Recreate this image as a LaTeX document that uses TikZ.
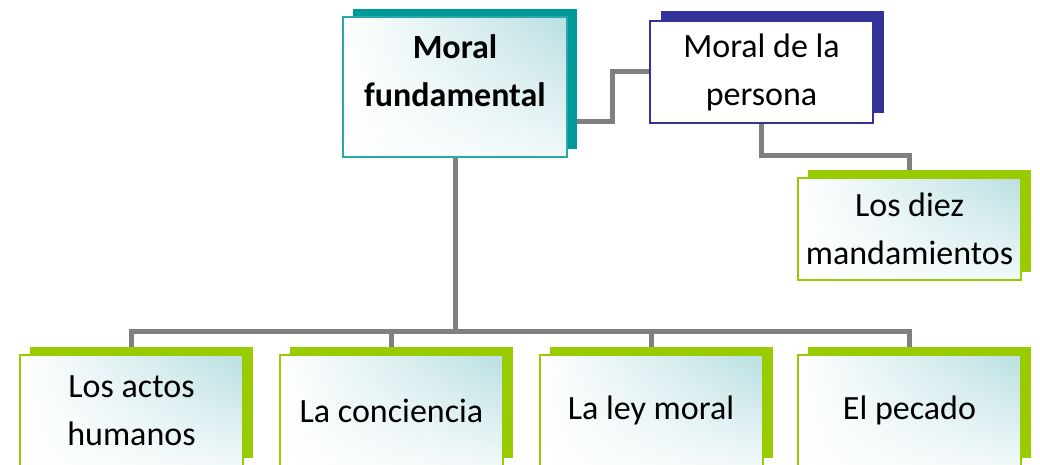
\documentclass[tikz,border=0pt]{standalone}
\usepackage{fontspec}
\setmainfont{Carlito}
\usetikzlibrary{shadows,shadings,backgrounds}

\definecolor{tealsh}{RGB}{0,153,153}
\definecolor{tealln}{RGB}{40,168,168}
\definecolor{navysh}{RGB}{51,51,153}
\definecolor{greensh}{RGB}{153,204,0}
\definecolor{gradc}{RGB}{186,223,226}
\definecolor{linkc}{RGB}{128,128,128}

\begin{document}
\begin{tikzpicture}[x=1pt, y=-1pt,
    boxfont/.style={font=\fontsize{34}{48}\selectfont},
    box/.style={rectangle, align=center, minimum width=223pt, minimum height=102pt,
        inner sep=0pt, text=black, boxfont, line width=1.5pt},
    grad/.style={shade, upper left=white, upper right=gradc,
        lower left=white, lower right=white!80!gradc},
    tealbox/.style={box, grad, draw=tealln,
        general shadow={fill=tealsh, shadow xshift=10pt, shadow yshift=8pt}},
    navybox/.style={box, fill=white, draw=navysh,
        general shadow={fill=navysh, shadow xshift=11pt, shadow yshift=10pt}},
    greenbox/.style={box, grad, draw=greensh, line width=2pt,
        general shadow={fill=greensh, shadow xshift=10pt, shadow yshift=8pt}},
    link/.style={draw=linkc, line width=5pt}]
    \useasboundingbox (0,0) rectangle (1040,465);

    % Main topics
    \node[tealbox, minimum width=224pt, minimum height=140pt,
        label={[boxfont, align=center, yshift=16pt, text=black]center:\textbf{Moral}\\ \textbf{fundamental}}]
        (fund) at (455,87) {};
    \node[navybox] (pers) at (761.5,72) {Moral de la\\ persona};
    \node[greenbox] (diez) at (909.5,229) {Los diez\\ mandamientos};

    % Bottom row
    \node[greenbox, minimum height=111pt] (actos) at (131.5,410.5) {Los actos\\ humanos};
    \node[greenbox, minimum height=111pt] (conc) at (391.5,410.5) {La conciencia};
    \node[greenbox, minimum height=111pt] (ley) at (651,410.5) {La ley moral};
    \node[greenbox, minimum height=111pt] (pec) at (909.5,410.5) {El pecado};

    % Connectors
    \coordinate (bus) at (455,331);
    \begin{scope}[on background layer]
        \draw[link] (fund.south) -- (bus);
        \draw[link] (actos.north) |- (bus);
        \draw[link] (conc.north) |- (bus);
        \draw[link] (ley.north) |- (bus);
        \draw[link] (pec.north) |- (bus);
        \draw[link] ([yshift=-35pt]fund.east) -- ++(45,0) |- (pers.west);
        \draw[link] (pers.south) -- ++(0,32) -| (diez.north);
    \end{scope}
\end{tikzpicture}
\end{document}
